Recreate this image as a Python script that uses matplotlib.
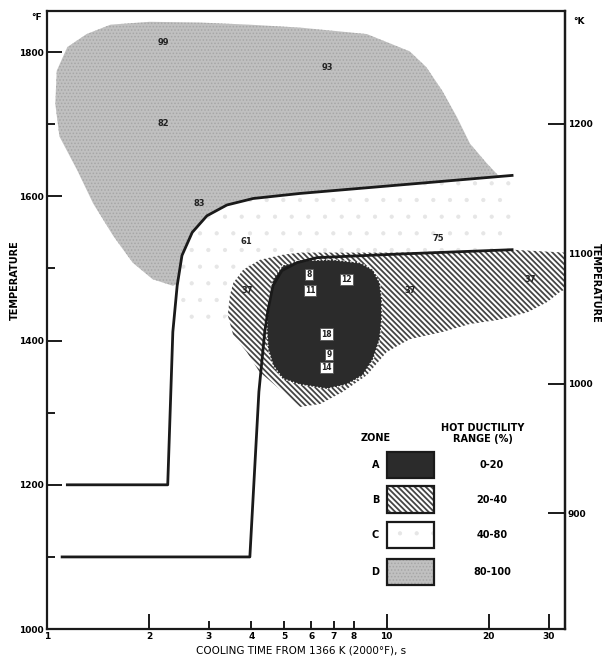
import matplotlib
matplotlib.use("Agg")
import matplotlib.pyplot as plt
from matplotlib.patches import Polygon, Rectangle
from matplotlib.ticker import FixedLocator, FixedFormatter, NullFormatter

plt.rcParams['font.family'] = ['DejaVu Sans']
plt.rcParams['hatch.linewidth'] = 1.5

# cooling curves: time from 1366 K (s), temperature (deg F)
fast_time = [1.15, 2.27, 2.35, 2.42, 2.50, 2.68, 2.96, 3.39, 4.05, 5.56, 23.4]
fast_temp = [1200, 1200, 1412, 1476, 1518, 1550, 1573, 1588, 1597, 1604, 1629]
slow_time = [1.11, 3.96, 4.21, 4.38, 4.48, 4.63, 4.92, 5.45, 6.24, 10.9, 23.4]
slow_temp = [1100, 1100, 1329, 1412, 1443, 1476, 1497, 1508, 1515, 1520, 1526]

# zone outlines (time, deg F)
zone_d_time = [2.35, 2.05, 1.79, 1.57, 1.37, 1.23, 1.09, 1.06, 1.07, 1.15, 1.31,
               1.54, 2.01, 2.82, 3.96, 5.56, 8.75, 11.7, 13.1, 14.6, 16.1, 17.6,
               19.7, 22.0, 23.1, 20.0, 16.0]
zone_d_temp = [1476, 1485, 1508, 1545, 1590, 1636, 1683, 1728, 1774, 1807, 1825,
               1838, 1842, 1841, 1838, 1834, 1825, 1801, 1779, 1746, 1710, 1673,
               1646, 1622, 1604, 1607, 1614]
zone_c_time = [2.42, 2.50, 2.68, 2.96, 3.39, 4.05, 5.56, 23.4, 23.4, 10.9, 4.95,
               3.78, 3.54, 3.46, 3.41, 3.05, 2.65, 2.45]
zone_c_temp = [1476, 1518, 1550, 1573, 1588, 1597, 1604, 1629, 1526, 1520, 1519,
               1498, 1480, 1463, 1435, 1412, 1420, 1452]
zone_b_time = [5.56, 10.9, 23.4, 33.5, 33.5, 32.3, 29.6, 25.9, 21.5, 17.6, 14.6,
               11.7, 10.0, 8.75, 7.44, 6.37, 5.56, 4.95, 4.22, 3.88, 3.54, 3.41,
               3.46, 3.54, 3.78, 4.24, 4.95]
zone_b_temp = [1522, 1522, 1526, 1522, 1471, 1467, 1453, 1439, 1429, 1423, 1412,
               1402, 1384, 1352, 1329, 1312, 1308, 1329, 1357, 1384, 1407, 1435,
               1463, 1480, 1498, 1512, 1519]
zone_a_time = [4.44, 4.48, 4.63, 4.95, 5.56, 6.95, 8.35, 9.12, 9.55, 9.68, 9.68,
               9.55, 9.12, 8.52, 7.64, 6.67, 5.56, 4.95, 4.63, 4.48]
zone_a_temp = [1416, 1449, 1485, 1504, 1511, 1512, 1508, 1498, 1480, 1457, 1429,
               1402, 1374, 1352, 1339, 1333, 1339, 1347, 1366, 1388]

# hot ductility values (%) measured in each zone
open_labels = ['99', '93', '82', '83', '61', '75', '37', '37', '37']
open_time = [2.20, 6.7, 2.20, 2.82, 3.88, 14.2, 3.9, 11.7, 26.4]
open_temp = [1813, 1779, 1701, 1590, 1538, 1542, 1469, 1469, 1485]
boxed_labels = ['8', '11', '12', '18', '9', '14']
boxed_time = [5.92, 5.95, 7.64, 6.67, 6.76, 6.67]
boxed_temp = [1492, 1469, 1485, 1409, 1381, 1363]

zones = ['A', 'B', 'C', 'D']
ranges = ['0-20', '20-40', '40-80', '80-100']

x_major = [1, 2, 10, 20, 30]
x_minor = [3, 4, 5, 6, 7, 8]
f_ticks = [1000, 1200, 1400, 1600, 1800]
f_minor = [1100, 1300, 1500, 1700]
k_ticks = [900, 1000, 1100, 1200]


def f_to_k(f):
    return (f - 32) * 5 / 9 + 273.15


def k_to_f(k):
    return (k - 273.15) * 9 / 5 + 32


zone_style = {
    'A': dict(facecolor='#2b2b2b', edgecolor='#2b2b2b', hatch=None, hlw=1.0),
    'B': dict(facecolor='white', edgecolor='#454545', hatch='\\' * 6, hlw=1.3),
    'C': dict(facecolor='white', edgecolor='#e6e6e6', hatch='.', hlw=0.6),
    'D': dict(facecolor='#c0c0c0', edgecolor='#a6a6a6', hatch='.' * 5, hlw=0.7),
}

fig = plt.figure(figsize=(6.02, 6.58), dpi=100)
ax = fig.add_axes([0.0776, 0.044, 0.861, 0.9393])
ax.set_xscale('log')
ax.set_xlim(1, 33.5)
ax.set_ylim(1000, 1857)

outlines = {
    'D': (zone_d_time, zone_d_temp),
    'C': (zone_c_time, zone_c_temp),
    'B': (zone_b_time, zone_b_temp),
    'A': (zone_a_time, zone_a_temp),
}
for z in ['D', 'C', 'B', 'A']:
    t, T = outlines[z]
    st = zone_style[z]
    with plt.rc_context({'hatch.linewidth': st['hlw']}):
        p = Polygon(list(zip(t, T)), closed=True, facecolor=st['facecolor'],
                    edgecolor=st['edgecolor'], hatch=st['hatch'], linewidth=0,
                    zorder=1)
        ax.add_patch(p)
# dotted rim round the low ductility zone
ax.add_patch(Polygon(list(zip(zone_a_time, zone_a_temp)), closed=True, fill=False,
                     edgecolor='white', linestyle=(0, (1, 1.5)), linewidth=1.0,
                     zorder=2))

ax.plot(fast_time, fast_temp, color='#1a1a1a', lw=2.0, zorder=3,
        solid_joinstyle='round')
ax.plot(slow_time, slow_temp, color='#1a1a1a', lw=2.0, zorder=3,
        solid_joinstyle='round')

for s, t, T in zip(open_labels, open_time, open_temp):
    ax.text(t, T, s, fontsize=6, fontweight='bold', ha='center', va='center',
            color='#222222', zorder=4)
for s, t, T in zip(boxed_labels, boxed_time, boxed_temp):
    ax.text(t, T, s, fontsize=5.5, fontweight='bold', ha='center', va='center',
            color='#222222', zorder=4,
            bbox=dict(boxstyle='square,pad=0.15', facecolor='white',
                      edgecolor='#555555', linewidth=0.6))

# zone key
box_x, box_w, box_h = 0.657, 0.091, 0.043
box_y = [0.244, 0.188, 0.131, 0.071]
for z, r, y in zip(zones, ranges, box_y):
    st = zone_style[z]
    with plt.rc_context({'hatch.linewidth': st['hlw']}):
        ax.add_patch(Rectangle((box_x, y), box_w, box_h, transform=ax.transAxes,
                               facecolor=st['facecolor'], edgecolor=st['edgecolor'],
                               hatch=st['hatch'], linewidth=0, zorder=4))
    ax.add_patch(Rectangle((box_x, y), box_w, box_h, transform=ax.transAxes,
                           fill=False, edgecolor='#1a1a1a', linewidth=1.6, zorder=5))
    ax.text(0.634, y + box_h / 2, z, transform=ax.transAxes, fontsize=7,
            fontweight='bold', ha='center', va='center')
    ax.text(0.859, y + box_h / 2, r, transform=ax.transAxes, fontsize=7,
            fontweight='bold', ha='center', va='center')
ax.text(0.634, 0.309, 'ZONE', transform=ax.transAxes, fontsize=7,
        fontweight='bold', ha='center', va='center')
ax.text(0.842, 0.316, 'HOT DUCTILITY\nRANGE (%)', transform=ax.transAxes,
        fontsize=7, fontweight='bold', ha='center', va='center',
        linespacing=1.1)

# axes styling
for sp in ['left', 'bottom', 'top', 'right']:
    ax.spines[sp].set_linewidth(1.6)
    ax.spines[sp].set_color('#1a1a1a')

ax.xaxis.set_major_locator(FixedLocator(x_major))
ax.xaxis.set_major_formatter(FixedFormatter([str(v) for v in x_major]))
ax.xaxis.set_minor_locator(FixedLocator(x_minor))
ax.xaxis.set_minor_formatter(FixedFormatter([str(v) for v in x_minor]))
ax.yaxis.set_major_locator(FixedLocator(f_ticks))
ax.yaxis.set_major_formatter(FixedFormatter([str(v) for v in f_ticks]))
ax.yaxis.set_minor_locator(FixedLocator(f_minor))
ax.yaxis.set_minor_formatter(NullFormatter())

ax.tick_params(axis='both', which='both', direction='in', labelsize=6.5,
               width=1.4, color='#1a1a1a', top=False, right=False)
ax.tick_params(axis='x', which='major', length=11, pad=2)
ax.tick_params(axis='x', which='minor', length=6, pad=2)
ax.tick_params(axis='y', which='major', length=11, pad=2)
ax.tick_params(axis='y', which='minor', length=6)
for lab in ax.get_xticklabels(which='both') + ax.get_yticklabels():
    lab.set_fontweight('bold')

kax = ax.secondary_yaxis('right', functions=(f_to_k, k_to_f))
kax.yaxis.set_major_locator(FixedLocator(k_ticks))
kax.yaxis.set_major_formatter(FixedFormatter([str(v) for v in k_ticks]))
kax.yaxis.set_minor_locator(FixedLocator([]))
kax.tick_params(axis='y', direction='in', length=12, width=1.4, labelsize=6.5,
                pad=2, color='#1a1a1a')
kax.spines['right'].set_linewidth(1.6)
for lab in kax.get_yticklabels():
    lab.set_fontweight('bold')

fig.text(0.060, 0.973, '°F', fontsize=6.5, fontweight='bold', ha='center',
         va='center')
fig.text(0.962, 0.967, '°K', fontsize=6.5, fontweight='bold', ha='center',
         va='center')
fig.text(0.024, 0.575, 'TEMPERATURE', rotation=90, fontsize=7,
         fontweight='bold', ha='center', va='center')
fig.text(0.990, 0.570, 'TEMPERATURE', rotation=270, fontsize=7,
         fontweight='bold', ha='center', va='center')
fig.text(0.500, 0.011, 'COOLING TIME FROM 1366 K (2000°F), s', fontsize=7.5,
         ha='center', va='center')

fig.savefig('out.png', dpi=100)
